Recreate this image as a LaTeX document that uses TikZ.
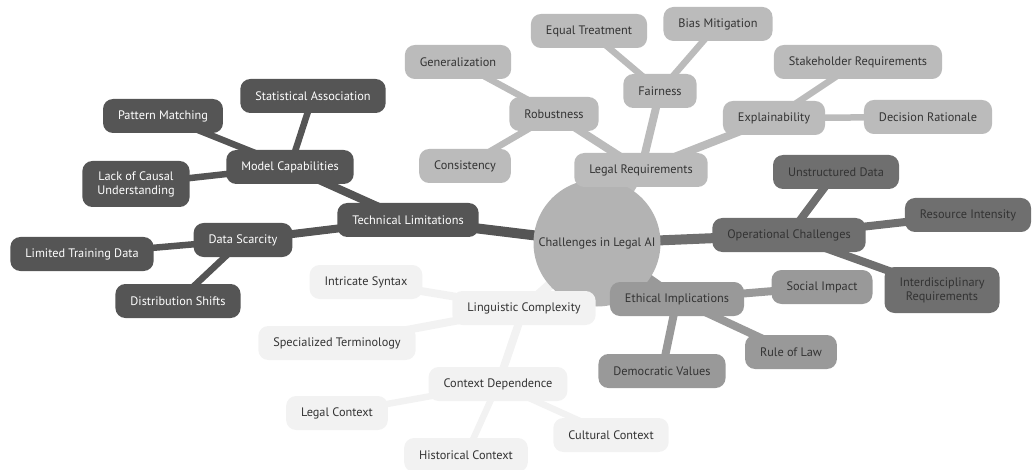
\documentclass[tikz,border=0pt]{standalone}
\usepackage{fontspec}
\setmainfont{PT Sans}
\usetikzlibrary{backgrounds}
\definecolor{rootgray}{HTML}{B3B3B3}
\definecolor{techgray}{HTML}{555555}
\definecolor{legalgray}{HTML}{BBBBBB}
\definecolor{opergray}{HTML}{6F6F6F}
\definecolor{ethicgray}{HTML}{999999}
\definecolor{linggray}{HTML}{F2F2F2}
\definecolor{inkgray}{HTML}{333333}
\tikzstyle{topic} = [rectangle, rounded corners=10pt, minimum height=34pt, inner xsep=15pt, font=\fontsize{12.3}{14}\selectfont, text=inkgray, align=center]
\tikzstyle{core} = [circle, fill=rootgray, minimum size=127pt, inner sep=0pt, font=\fontsize{12.3}{14}\selectfont, text=inkgray]
\tikzstyle{techbox} = [topic, fill=techgray, text=white]
\tikzstyle{legalbox} = [topic, fill=legalgray]
\tikzstyle{operbox} = [topic, fill=opergray]
\tikzstyle{ethicbox} = [topic, fill=ethicgray]
\tikzstyle{lingbox} = [topic, fill=linggray]
\tikzstyle{trunk} = [line width=10pt]
\tikzstyle{bough} = [line width=8pt]
\tikzstyle{twig} = [line width=6.5pt]

\begin{document}
\begin{tikzpicture}[x=1pt, y=-1pt]
            \useasboundingbox (0,0) rectangle (1035,470);
            \node [core] (root) at (597,243) {Challenges in Legal AI};
            % technical limitations
            \node [techbox] (tech) at (408,220) {Technical Limitations};
            \node [techbox] (model) at (290,167) {Model Capabilities};
            \node [techbox] (stat) at (313,96) {Statistical Association};
            \node [techbox] (pattern) at (163,116) {Pattern Matching};
            \node [techbox, minimum height=46pt] (causal) at (136,184) {Lack of Causal\\Understanding};
            \node [techbox] (scarce) at (243,240) {Data Scarcity};
            \node [techbox] (limited) at (82,254) {Limited Training Data};
            \node [techbox] (shifts) at (178,301) {Distribution Shifts};
            % legal requirements
            \node [legalbox] (legal) at (641,170) {Legal Requirements};
            \node [legalbox] (robust) at (554,114) {Robustness};
            \node [legalbox] (general) at (458,62) {Generalization};
            \node [legalbox] (consist) at (465,166) {Consistency};
            \node [legalbox] (fair) at (660,91) {Fairness};
            \node [legalbox] (equal) at (589,31) {Equal Treatment};
            \node [legalbox] (bias) at (718,24) {Bias Mitigation};
            \node [legalbox] (explain) at (774,118) {Explainability};
            \node [legalbox] (stake) at (858,62) {Stakeholder Requirements};
            \node [legalbox] (reason) at (928,117) {Decision Rationale};
            % operational challenges
            \node [operbox] (oper) at (789,235) {Operational Challenges};
            \node [operbox] (unstruct) at (836,172) {Unstructured Data};
            \node [operbox] (resource) at (968,215) {Resource Intensity};
            \node [operbox, minimum height=46pt] (interdis) at (942,290) {Interdisciplinary\\Requirements};
            % ethical implications
            \node [ethicbox] (ethic) at (677,299) {Ethical Implications};
            \node [ethicbox] (social) at (822,287) {Social Impact};
            \node [ethicbox] (law) at (791,352) {Rule of Law};
            \node [ethicbox] (democ) at (662,371) {Democratic Values};
            % linguistic complexity
            \node [lingbox] (ling) at (524,308) {Linguistic Complexity};
            \node [lingbox] (syntax) at (366,282) {Intricate Syntax};
            \node [lingbox] (termin) at (337,343) {Specialized Terminology};
            \node [lingbox] (context) at (498,384) {Context Dependence};
            \node [lingbox] (legalctx) at (337,413) {Legal Context};
            \node [lingbox] (cultural) at (611,435) {Cultural Context};
            \node [lingbox] (history) at (466,455) {Historical Context};
            \begin{scope}[on background layer]
            \foreach \b/\c in {tech/techgray, legal/legalgray, oper/opergray, ethic/ethicgray, ling/linggray}
                \draw [trunk, \c] (root.center) -- (\b.center);
            \foreach \a/\b in {tech/model, tech/scarce}
                \draw [bough, techgray] (\a.center) -- (\b.center);
            \foreach \a/\b in {model/stat, model/pattern, model/causal, scarce/limited, scarce/shifts}
                \draw [twig, techgray] (\a.center) -- (\b.center);
            \foreach \a/\b in {legal/robust, legal/fair, legal/explain}
                \draw [bough, legalgray] (\a.center) -- (\b.center);
            \foreach \a/\b in {robust/general, robust/consist, fair/equal, fair/bias, explain/stake, explain/reason}
                \draw [twig, legalgray] (\a.center) -- (\b.center);
            \foreach \a/\b in {oper/unstruct, oper/resource, oper/interdis}
                \draw [bough, opergray] (\a.center) -- (\b.center);
            \foreach \a/\b in {ethic/social, ethic/law, ethic/democ}
                \draw [bough, ethicgray] (\a.center) -- (\b.center);
            \foreach \a/\b in {ling/syntax, ling/termin, ling/context}
                \draw [bough, linggray] (\a.center) -- (\b.center);
            \foreach \a/\b in {context/legalctx, context/cultural, context/history}
                \draw [twig, linggray] (\a.center) -- (\b.center);
            \end{scope}
\end{tikzpicture}
\end{document}
